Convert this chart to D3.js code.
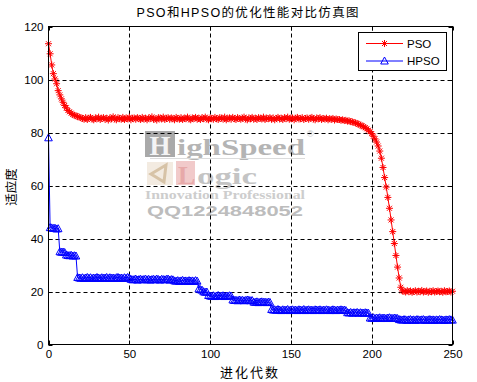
<!DOCTYPE html>
<html><head><meta charset="utf-8">
<script src="https://cdn.jsdelivr.net/npm/d3@7"></script>
<style>
html,body{margin:0;padding:0;background:#fff;}
svg{display:block;}
</style></head>
<body>
<svg id="chart" width="477" height="382"></svg>
<script>
// ---- data ----
const titleText = "PSO和HPSO的优化性能对比仿真图";
const xLabel = "进化代数";
const yLabel = "适应度";
const seriesNames = ["PSO", "HPSO"];
const xTicks = [0, 50, 100, 150, 200, 250];
const yTicks = [0, 20, 40, 60, 80, 100, 120];

// fitness per generation (generation = index, 0..250)
const psoValues = [
  113.5, 109.7, 105.5, 102.2, 100.2, 98.4, 95.8, 94.2, 92.7, 91.4,
  90.2, 89.3, 88.3, 87.8, 87.3, 86.8, 86.5, 86.3, 86.0, 85.8, 85.6,
  85.3, 85.0, 85.6, 84.9, 85.4, 85.7, 85.1, 84.8, 85.5, 85.2, 85.8, 84.9, 85.3, 85.6, 85.0, 85.4, 84.7, 85.5, 85.2, 85.9,
  85.1, 84.8, 85.6, 85.3, 85.0, 85.7, 84.9, 85.4, 85.2, 85.8, 84.8, 85.3, 85.5, 85.0, 85.6, 85.2, 84.9, 85.7, 85.1, 85.4,
  84.8, 85.5, 85.3, 85.9, 85.0, 85.2, 84.7, 85.6, 85.4, 85.1, 85.8, 84.9, 85.3, 85.6, 85.0, 85.5, 85.2, 84.8, 85.7, 85.3,
  85.0, 85.6, 84.9, 85.4, 85.2, 85.8, 85.1, 84.8, 85.5, 85.3, 85.7, 85.0, 85.4, 84.9, 85.6, 85.2, 85.8, 85.1, 84.8, 85.5,
  85.3, 85.0, 85.7, 85.2, 84.9, 85.6, 85.4, 85.1, 85.8, 84.8, 85.3, 85.5, 85.0, 85.7, 85.2, 84.9, 85.6, 85.3, 85.0, 85.4,
  85.8, 85.1, 84.8, 85.5, 85.2, 85.7, 85.0, 85.4, 84.9, 85.6, 85.3, 85.1, 85.8, 84.9, 85.4, 85.2, 85.6, 85.0, 85.5, 84.8,
  85.3, 85.7, 85.1, 85.4, 84.9, 85.6, 85.2, 85.8, 85.0, 85.3, 85.5, 84.8, 85.4, 85.7, 85.1, 85.2, 85.6, 84.9, 85.3, 85.5,
  85.0, 85.4, 85.7, 85.1, 84.8, 85.5, 85.2, 85.6, 84.9, 85.3, 85.1, 85.4, 84.8, 85.2, 85.0, 85.3, 84.7, 85.1, 84.9,
  84.9, 84.6, 84.8, 84.5, 84.6, 84.3, 84.4, 84.1, 84.0, 83.8, 83.6, 83.4, 83.1, 82.8, 82.5, 82.2, 81.8, 81.4, 80.9, 80.3, 79.6,
  78.6, 77.6, 76.4, 74.9, 73.0, 70.3, 66.8, 63.0, 59.4, 55.5, 51.4, 47.0, 42.6, 38.1, 33.6, 29.2, 25.1, 21.6, 20.2,
  20.1, 19.8, 20.3, 19.9, 20.2, 19.7, 20.0, 20.3, 19.8, 20.1, 19.9, 20.4, 19.8, 20.0, 20.2, 19.7, 20.1, 19.9, 20.3, 19.8,
  20.0, 20.2, 19.9, 20.1, 19.7, 20.3, 19.9, 20.0, 20.2, 19.8, 20.1
];
const hpsoValues = [
  78.0,
  44.1, 44.0, 43.8, 43.9, 43.6, 43.7,
  35.0, 34.8, 34.9, 34.7, 33.8, 33.6, 33.5, 33.7, 33.4, 33.5, 33.4,
  25.3, 25.1, 25.0, 25.2, 24.9, 25.1, 25.3, 25.0, 25.2, 24.9, 25.1, 25.0, 25.3, 25.1, 24.9, 25.2, 25.0, 25.1, 25.3, 24.9,
  25.2, 25.0, 25.1, 24.9, 25.2, 25.3, 25.0, 25.1, 24.9, 25.2, 25.0, 25.3, 25.1,
  24.6, 24.4, 24.5, 24.7, 24.3, 24.5, 24.6, 24.4, 24.5, 24.7, 24.4, 24.6, 24.3, 24.5, 24.6, 24.4, 24.7, 24.5, 24.3, 24.6,
  24.5, 24.4, 24.6, 24.7, 24.3, 24.5, 24.4,
  24.0, 23.9, 24.1, 23.8, 24.0, 24.2, 23.9, 24.0, 23.8, 24.1, 23.9, 24.0, 23.8, 24.1, 23.9,
  21.0, 20.7, 20.5, 19.9, 19.7, 19.8,
  18.5, 18.3, 18.2, 18.4, 18.1, 18.3, 18.5, 18.2, 18.3, 18.4, 18.1, 18.3, 18.2, 18.4, 18.3,
  16.8, 16.6, 16.7, 16.5, 16.8, 16.6, 16.7, 16.5, 16.6, 16.8, 16.7, 16.5, 16.6,
  16.0, 15.9, 16.1, 15.8, 16.0, 16.1, 15.9, 16.0, 15.8, 16.0, 15.9,
  13.2, 13.0, 13.1, 12.9, 13.2, 13.0, 12.8, 13.1, 12.9, 13.0, 13.2, 12.8, 13.0, 13.1, 12.9, 13.0, 12.8, 13.1, 13.0, 12.9,
  13.2, 12.8, 13.0, 13.1, 12.9, 13.0, 12.8, 13.1, 13.0, 12.9, 13.1, 12.8, 13.0, 12.9, 13.1, 13.0, 12.8, 12.9, 13.1, 13.0,
  12.8, 13.0, 12.9, 13.1, 12.9, 13.0, 12.8,
  12.0, 11.9, 12.1, 11.8, 12.0, 11.9, 12.1, 11.8, 12.0, 11.9, 11.8, 12.0, 11.9, 11.8,
  10.0, 9.9, 10.1, 9.8, 10.0, 9.9, 10.1, 9.8, 10.0, 9.9, 9.8, 10.0, 10.1, 9.9, 9.8, 10.0, 9.9, 9.8,
  9.4, 9.3, 9.2, 9.4, 9.3, 9.1, 9.3, 9.4, 9.2, 9.3, 9.1, 9.4, 9.3, 9.2, 9.3, 9.4, 9.2, 9.1, 9.3, 9.4,
  9.2, 9.3, 9.1, 9.3, 9.2, 9.4, 9.3, 9.2, 9.1, 9.3, 9.2, 9.4, 9.3, 9.2
];

// ---- drawing ----
const svg = d3.select("#chart");
const L = 48.5, R = 452.5, T = 26.5, B = 344.5;
const x = d3.scaleLinear().domain([0, 250]).range([L, R]);
const y = d3.scaleLinear().domain([0, 120]).range([B, T]);
const tickFont = "'Liberation Sans', Arial, sans-serif";
const cjkFont = "'Liberation Sans', 'Noto Sans CJK SC', sans-serif";

// watermark (faint, behind grid)
const wm = svg.append("g").attr("class", "watermark");
wm.append("rect").attr("x", 145).attr("y", 131).attr("width", 30).attr("height", 26).attr("fill", "#a9a9a9");
wm.append("text").attr("x", 160).attr("y", 155).attr("text-anchor", "middle")
  .attr("font-family", "'Liberation Serif', serif").attr("font-weight", "bold").attr("font-size", 27)
  .attr("fill", "#f4f4f4").text("H");
wm.append("text").attr("x", 177).attr("y", 155).attr("textLength", 128).attr("lengthAdjust", "spacingAndGlyphs")
  .attr("font-family", "'Liberation Serif', serif").attr("font-weight", "bold").attr("font-size", 24)
  .attr("fill", "#b4b4b4").text("ighSpeed");
wm.append("line").attr("x1", 150).attr("x2", 305).attr("y1", 158.5).attr("y2", 158.5).attr("stroke", "#dcdcdc");
wm.append("text").attr("x", 307).attr("y", 137).attr("font-family", "sans-serif").attr("font-size", 9)
  .attr("fill", "#c4c4c4").text("®");
wm.append("rect").attr("x", 147).attr("y", 162).attr("width", 26).attr("height", 23).attr("fill", "#f3ebe1");
wm.append("path").attr("d", "M151,174 L166,165 L164,182 Z").attr("fill", "none").attr("stroke", "#d7c3a7").attr("stroke-width", 3);
wm.append("rect").attr("x", 176).attr("y", 161).attr("width", 19).attr("height", 24).attr("fill", "#f1caca");
wm.append("text").attr("x", 178).attr("y", 184)
  .attr("font-family", "'Liberation Serif', serif").attr("font-weight", "bold").attr("font-size", 26)
  .attr("fill", "#e7a9a9").text("L");
wm.append("text").attr("x", 197).attr("y", 184).attr("textLength", 60).attr("lengthAdjust", "spacingAndGlyphs")
  .attr("font-family", "'Liberation Serif', serif").attr("font-weight", "bold").attr("font-size", 24)
  .attr("fill", "#c4c4c4").text("ogic");
wm.append("text").attr("x", 145).attr("y", 198.5).attr("textLength", 160).attr("lengthAdjust", "spacingAndGlyphs")
  .attr("font-family", "'Liberation Serif', serif").attr("font-weight", "bold").attr("font-size", 12.5)
  .attr("fill", "#cdcdcd").text("Innovation Professional");
wm.append("text").attr("x", 147).attr("y", 215.5).attr("textLength", 156).attr("lengthAdjust", "spacingAndGlyphs")
  .attr("font-family", "'Liberation Sans', sans-serif").attr("font-weight", "bold").attr("font-size", 14.5)
  .attr("fill", "#bdbdbd").text("QQ1224848052");

// grid
const grid = svg.append("g").attr("stroke", "#000").attr("stroke-dasharray", "4,3").attr("stroke-width", 1);
grid.selectAll("line.vx").data(xTicks.slice(1, -1)).join("line")
  .attr("x1", d => Math.round(x(d)) + 0.5).attr("x2", d => Math.round(x(d)) + 0.5)
  .attr("y1", T).attr("y2", B);
grid.selectAll("line.hy").data(yTicks.slice(1, -1)).join("line")
  .attr("y1", d => Math.round(y(d)) + 0.5).attr("y2", d => Math.round(y(d)) + 0.5)
  .attr("x1", L).attr("x2", R);

// inward ticks on all sides
const tk = svg.append("g").attr("stroke", "#000");
xTicks.forEach(d => {
  const xx = Math.round(x(d)) + 0.5;
  tk.append("line").attr("x1", xx).attr("x2", xx).attr("y1", B).attr("y2", B - 4);
  tk.append("line").attr("x1", xx).attr("x2", xx).attr("y1", T).attr("y2", T + 4);
});
yTicks.forEach(d => {
  const yy = Math.round(y(d)) + 0.5;
  tk.append("line").attr("y1", yy).attr("y2", yy).attr("x1", L).attr("x2", L + 4);
  tk.append("line").attr("y1", yy).attr("y2", yy).attr("x1", R).attr("x2", R - 4);
});

// tick labels via axes (no domain / tick lines)
const xAxis = svg.append("g").attr("transform", `translate(0,${B})`)
  .call(d3.axisBottom(x).tickValues(xTicks).tickSize(0).tickPadding(5).tickFormat(d3.format("d")));
const yAxis = svg.append("g").attr("transform", `translate(${L},0)`)
  .call(d3.axisLeft(y).tickValues(yTicks).tickSize(0).tickPadding(5).tickFormat(d3.format("d")));
[xAxis, yAxis].forEach(a => {
  a.select(".domain").remove();
  a.selectAll("text").attr("font-family", tickFont).attr("font-size", 11.5).attr("fill", "#000");
});

// series
const starPath = "M-3.5,0H3.5M0,-3.5V3.5M-2.5,-2.5L2.5,2.5M-2.5,2.5L2.5,-2.5";
const triPath = "M0,-4L3.8,3L-3.8,3Z";
const lineGen = d3.line().x((d, i) => x(i)).y(d => y(d));

const pso = svg.append("g");
pso.append("path").datum(psoValues).attr("d", lineGen).attr("fill", "none").attr("stroke", "#ff0000").attr("stroke-width", 1);
pso.selectAll("path.m").data(psoValues).join("path").attr("class", "m")
  .attr("transform", (d, i) => `translate(${x(i)},${y(d)})`)
  .attr("d", starPath).attr("stroke", "#ff0000").attr("stroke-width", 1).attr("fill", "none");

const hpso = svg.append("g");
hpso.append("path").datum(hpsoValues).attr("d", lineGen).attr("fill", "none").attr("stroke", "#0000ff").attr("stroke-width", 1);
hpso.selectAll("path.m").data(hpsoValues).join("path").attr("class", "m")
  .attr("transform", (d, i) => `translate(${x(i)},${y(d)})`)
  .attr("d", triPath).attr("stroke", "#0000ff").attr("stroke-width", 1).attr("fill", "none");

// axes box
svg.append("rect").attr("x", L).attr("y", T).attr("width", R - L).attr("height", B - T)
  .attr("fill", "none").attr("stroke", "#000").attr("stroke-width", 1);

// legend
const lg = svg.append("g");
lg.append("rect").attr("x", 358.5).attr("y", 32.5).attr("width", 88).attr("height", 38)
  .attr("fill", "#fff").attr("stroke", "#000");
const legendRows = [
  {name: seriesNames[0], color: "#ff0000", marker: starPath, yy: 43.5},
  {name: seriesNames[1], color: "#0000ff", marker: triPath, yy: 61}
];
legendRows.forEach(r => {
  lg.append("line").attr("x1", 366).attr("x2", 403).attr("y1", r.yy).attr("y2", r.yy).attr("stroke", r.color);
  lg.append("path").attr("d", r.marker).attr("transform", `translate(384.5,${r.yy})`)
    .attr("stroke", r.color).attr("fill", "none");
  lg.append("text").attr("x", 407).attr("y", r.yy + 4.2).attr("font-family", tickFont).attr("font-size", 11.5)
    .attr("fill", "#000").text(r.name);
});

// title and labels
svg.append("text").attr("x", 136.5).attr("y", 16.5).attr("textLength", 222).attr("lengthAdjust", "spacing")
  .attr("font-family", cjkFont).attr("font-size", 12.5).attr("fill", "#000").text(titleText);
svg.append("text").attr("x", 220).attr("y", 376.5).attr("textLength", 58).attr("lengthAdjust", "spacing")
  .attr("font-family", "'Noto Sans CJK SC', sans-serif").attr("font-size", 13).attr("fill", "#000").text(xLabel);
svg.append("text").attr("transform", "translate(16,187) rotate(-90)").attr("text-anchor", "middle")
  .attr("font-family", "'Noto Sans CJK SC', sans-serif").attr("font-size", 12.5).attr("fill", "#000").text(yLabel);
</script>
</body></html>
